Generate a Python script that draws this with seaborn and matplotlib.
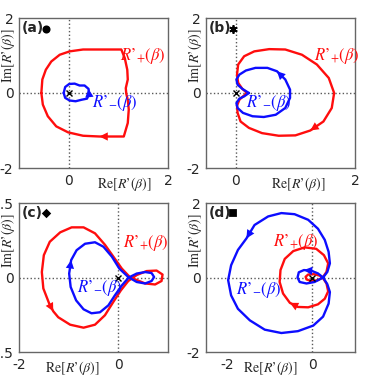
import matplotlib
matplotlib.use("Agg")
import matplotlib.pyplot as plt
import seaborn as sns

# curve points, in travel order
a_red_x = [-0.55, -0.53, -0.46, -0.35, -0.18, 0.02, 0.29, 0.62, 1.06, 1.13, 1.18, 1.19, 1.15, 1.16, 1.19, 1.21, 1.19, 1.11, 0.62, 0.29, -0.01, -0.25, -0.42, -0.52, -0.55]
a_red_y = [0.0, 0.36, 0.62, 0.84, 1.02, 1.11, 1.16, 1.16, 1.16, 0.93, 0.62, 0.36, 0.13, -0.02, -0.18, -0.44, -0.8, -1.16, -1.16, -1.14, -1.05, -0.89, -0.62, -0.31, 0.0]
a_blue_x = [-0.10, -0.07, 0.02, 0.14, 0.26, 0.37, 0.41, 0.40, 0.32, 0.22, 0.12, 0.01, -0.07, -0.10]
a_blue_y = [0.0, -0.13, -0.20, -0.22, -0.18, -0.15, -0.02, 0.11, 0.20, 0.20, 0.25, 0.24, 0.16, 0.0]

b_red_x = [0.19, 0.11, 0.04, 0.02, 0.04, 0.14, 0.31, 0.56, 0.83, 1.11, 1.36, 1.56, 1.65, 1.61, 1.47, 1.25, 1.0, 0.72, 0.44, 0.22, 0.08, 0.03, 0.02, 0.06, 0.12, 0.19]
b_red_y = [0.0, 0.11, 0.27, 0.49, 0.76, 0.98, 1.11, 1.17, 1.16, 1.02, 0.76, 0.40, 0.0, -0.40, -0.76, -1.0, -1.13, -1.14, -1.07, -0.93, -0.76, -0.53, -0.34, -0.18, -0.09, 0.0]
b_blue_x = [0.22, 0.14, 0.06, 0.01, 0.03, 0.12, 0.28, 0.47, 0.67, 0.83, 0.91, 0.91, 0.83, 0.69, 0.53, 0.33, 0.17, 0.06, 0.01, 0.03, 0.11, 0.22]
b_blue_y = [0.0, -0.09, -0.15, -0.27, -0.40, -0.53, -0.62, -0.64, -0.58, -0.40, -0.13, 0.09, 0.36, 0.58, 0.67, 0.67, 0.60, 0.49, 0.36, 0.22, 0.11, 0.0]

c_red_x = [0.23, 0.07, -0.10, -0.27, -0.47, -0.70, -0.94, -1.17, -1.38, -1.50, -1.54, -1.51, -1.39, -1.31, -1.21, -0.97, -0.70, -0.47, -0.27, -0.10, 0.05, 0.20, 0.37, 0.57, 0.77, 0.89, 0.87, 0.74, 0.54, 0.37, 0.23]
c_red_y = [0.01, 0.18, 0.42, 0.66, 0.89, 1.01, 1.01, 0.91, 0.72, 0.45, 0.11, -0.22, -0.53, -0.68, -0.80, -0.95, -1.01, -0.95, -0.76, -0.49, -0.26, -0.07, 0.05, 0.13, 0.14, 0.06, -0.07, -0.14, -0.12, -0.05, 0.01]
c_blue_x = [0.21, 0.07, -0.07, -0.20, -0.37, -0.54, -0.70, -0.85, -0.96, -0.99, -0.95, -0.84, -0.67, -0.47, -0.30, -0.13, 0.02, 0.20, 0.37, 0.54, 0.67, 0.72, 0.67, 0.54, 0.37, 0.21]
c_blue_y = [0.0, -0.16, -0.36, -0.56, -0.70, -0.72, -0.64, -0.46, -0.19, 0.08, 0.35, 0.55, 0.68, 0.71, 0.62, 0.42, 0.18, 0.01, -0.09, -0.12, -0.07, 0.01, 0.09, 0.11, 0.08, 0.0]

d_red_x = [0.24, 0.33, 0.37, 0.29, 0.13, -0.10, -0.34, -0.53, -0.69, -0.77, -0.75, -0.65, -0.45, -0.18, 0.09, 0.27, 0.37, 0.33, 0.24, 0.13, -0.02, -0.14, -0.16, -0.10, 0.04, 0.17, 0.24]
d_red_y = [0.0, -0.16, -0.37, -0.57, -0.72, -0.80, -0.79, -0.68, -0.43, -0.12, 0.20, 0.50, 0.71, 0.81, 0.77, 0.60, 0.38, 0.15, 0.0, -0.07, -0.10, -0.05, 0.02, 0.08, 0.09, 0.05, 0.0]
d_blue_x = [0.25, 0.13, -0.02, -0.20, -0.32, -0.35, -0.30, -0.14, 0.05, 0.25, 0.35, 0.41, 0.38, 0.29, 0.13, -0.10, -0.42, -0.73, -1.04, -1.36, -1.55, -1.75, -1.91, -1.98, -1.91, -1.75, -1.47, -1.12, -0.73, -0.34, 0.02, 0.25, 0.38, 0.41, 0.35, 0.25]
d_blue_y = [0.0, 0.11, 0.18, 0.20, 0.14, 0.0, -0.12, -0.16, -0.12, 0.0, 0.15, 0.38, 0.69, 1.01, 1.31, 1.55, 1.70, 1.73, 1.64, 1.41, 1.05, 0.74, 0.33, -0.07, -0.48, -0.84, -1.15, -1.40, -1.49, -1.44, -1.29, -1.05, -0.70, -0.39, -0.18, 0.0]

panels = [
    dict(tag="(a)", mark="o", ms=4.5, xlim=(-1, 2), ylim=(-2, 2), xt=[0, 2], yt=[-2, 0, 2],
         curves=[(a_red_x, a_red_y, [18]), (a_blue_x, a_blue_y, [7])],
         plus=(1.03, 0.98), minus=(0.46, -0.27), xlab=0.71),
    dict(tag="(b)", mark=(6, 2, 0), ms=6, xlim=(-0.5, 2), ylim=(-2, 2), xt=[0, 2], yt=[-2, 0, 2],
         curves=[(b_red_x, b_red_y, [15]), (b_blue_x, b_blue_y, [13])],
         plus=(1.31, 0.98), minus=(0.17, -0.27), xlab=0.62),
    dict(tag="(c)", mark="D", ms=3.5, xlim=(-2, 1), ylim=(-1.5, 1.5), xt=[-2, 0], yt=[-1.5, 0, 1.5],
         curves=[(c_red_x, c_red_y, [13]), (c_blue_x, c_blue_y, [10])],
         plus=(0.1, 0.69), minus=(-0.84, -0.22), xlab=0.36),
    dict(tag="(d)", mark="s", ms=4, xlim=(-2.5, 1), ylim=(-2, 2), xt=[-2, 0], yt=[-2, 0, 2],
         curves=[(d_red_x, d_red_y, [7]), (d_blue_x, d_blue_y, [3, 20])],
         plus=(-0.93, 0.96), minus=(-1.79, -0.34), xlab=0.43),
]

sns.set_style("white")
plt.rcParams["mathtext.fontset"] = "stix"
plt.rcParams["axes.unicode_minus"] = False
plt.rcParams["font.family"] = ["DejaVu Sans"]

fig = plt.figure(figsize=(3.74, 3.75), dpi=100)
boxes = [[0.0508, 0.552, 0.3984, 0.4], [0.5508, 0.552, 0.3984, 0.4],
         [0.0508, 0.0613, 0.3984, 0.3973], [0.5508, 0.0613, 0.3984, 0.3973]]
colors = ["#ff0d0d", "#0d0dff"]

for box, p in zip(boxes, panels):
    ax = fig.add_axes(box)
    ax.axvline(0, color="0.35", ls=":", lw=1)
    ax.axhline(0, color="0.35", ls=":", lw=1)
    for (xs, ys, arrows), col in zip(p["curves"], colors):
        sns.lineplot(x=xs, y=ys, sort=False, estimator=None, color=col, lw=1.7, ax=ax)
        for i in arrows:
            ax.annotate("", xy=(xs[i], ys[i]), xytext=(xs[i - 1], ys[i - 1]),
                        arrowprops=dict(arrowstyle="-|>", color=col, lw=0,
                                        mutation_scale=15, shrinkA=0, shrinkB=0))
    ax.plot(0, 0, marker="x", color="k", ms=5, mew=1)
    ax.set_xlim(*p["xlim"])
    ax.set_ylim(*p["ylim"])
    ax.set_xticks(p["xt"])
    ax.set_yticks(p["yt"])
    ax.set_xticklabels([f"{v:g}" for v in p["xt"]])
    ax.set_yticklabels([f"{v:g}" for v in p["yt"]])
    ax.tick_params(direction="in", length=3, color="0.4", labelsize=10, pad=4)
    for s in ax.spines.values():
        s.set_color("0.4")
        s.set_linewidth(1)
    ax.text(*p["plus"], r"$R’_{+}(\beta)$", color=colors[0], fontsize=12, va="center")
    ax.text(*p["minus"], r"$R’_{-}(\beta)$", color=colors[1], fontsize=12, va="center")
    ax.set_xlabel(r"$\mathrm{Re}[R’(\beta)]$", fontsize=10)
    ax.xaxis.set_label_coords(p["xlab"], -0.11)
    ax.xaxis.label.set_va("center")
    ax.set_ylabel(r"$\mathrm{Im}[R’(\beta)]$", fontsize=10)
    ax.yaxis.set_label_coords(-0.077, 0.75)
    ax.yaxis.label.set_va("center")
    ax.text(0.02, 0.93, p["tag"], transform=ax.transAxes, fontsize=10,
            fontweight="bold", va="center")
    ax.plot(0.18, 0.93, marker=p["mark"], color="k", ms=p["ms"], mew=1.3,
            transform=ax.transAxes, clip_on=False)

fig.savefig("out.png", dpi=100)
